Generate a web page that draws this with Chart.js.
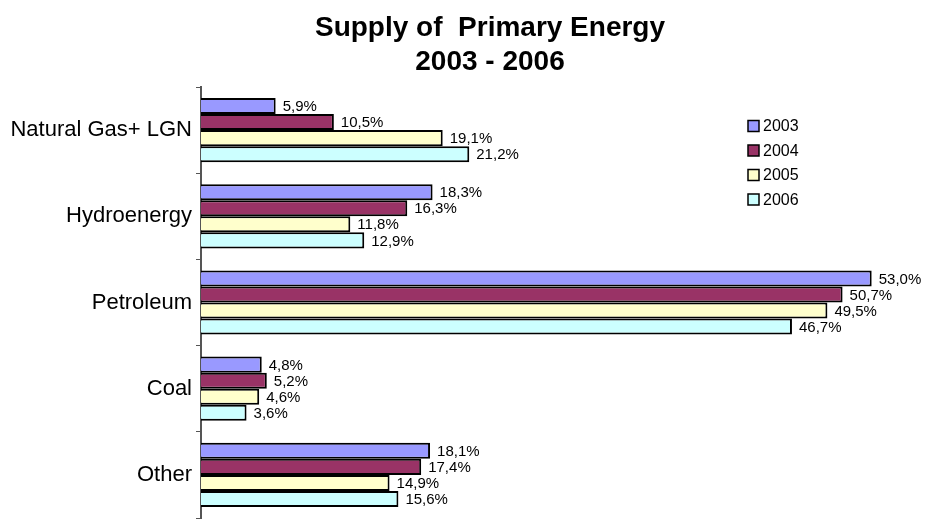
<!DOCTYPE html>
<html>
<head>
<meta charset="utf-8">
<script src="https://cdn.jsdelivr.net/npm/chart.js@4"></script>
<style>
html,body{margin:0;padding:0;background:#fff;}
#c{display:block;}
</style>
</head>
<body>
<canvas id="c" width="926" height="519"></canvas>
<script>
const categories = ['Natural Gas+ LGN', 'Hydroenergy', 'Petroleum', 'Coal', 'Other'];
const years = ['2003', '2004', '2005', '2006'];
const values2003 = [5.9, 18.3, 53.0, 4.8, 18.1];
const values2004 = [10.5, 16.3, 50.7, 5.2, 17.4];
const values2005 = [19.1, 11.8, 49.5, 4.6, 14.9];
const values2006 = [21.2, 12.9, 46.7, 3.6, 15.6];
const colors = ['#9999FF', '#993366', '#FFFFCC', '#CCFFFF'];
const titleLines = ['Supply of  Primary Energy', '2003 - 2006'];

const FONT = "'Liberation Sans', Arial, Helvetica, sans-serif";
const seriesValues = [values2003, values2004, values2005, values2006];

const titlePlugin = {
  id: 'customTitle',
  afterDraw(chart) {
    const ctx = chart.ctx;
    ctx.save();
    ctx.font = 'bold 28px ' + FONT;
    ctx.fillStyle = '#000';
    ctx.textAlign = 'center';
    ctx.textBaseline = 'middle';
    titleLines.forEach((t, i) => ctx.fillText(t, 490, 28 + i * 34));
    ctx.restore();
  }
};

const labelPlugin = {
  id: 'barLabels',
  afterDatasetsDraw(chart) {
    const ctx = chart.ctx;
    ctx.save();
    ctx.font = '15px ' + FONT;
    ctx.fillStyle = '#000';
    ctx.textAlign = 'left';
    ctx.textBaseline = 'middle';
    chart.data.datasets.forEach((ds, i) => {
      const meta = chart.getDatasetMeta(i);
      meta.data.forEach((el, j) => {
        const v = ds.data[j];
        const txt = v.toFixed(1).replace('.', ',') + '%';
        ctx.fillText(txt, el.x + 7, el.y + 1);
      });
    });
    ctx.restore();
  }
};

const legendPlugin = {
  id: 'customLegend',
  afterDraw(chart) {
    const ctx = chart.ctx;
    ctx.save();
    ctx.font = '16px ' + FONT;
    ctx.textBaseline = 'middle';
    ctx.textAlign = 'left';
    chart.data.datasets.forEach((ds, i) => {
      const cy = 126 + i * 24.5;
      ctx.fillStyle = ds.backgroundColor;
      ctx.fillRect(748, cy - 5.5, 11, 11);
      ctx.strokeStyle = '#000';
      ctx.lineWidth = 1.5;
      ctx.strokeRect(748, cy - 5.5, 11, 11);
      ctx.fillStyle = '#000';
      ctx.fillText(ds.label, 763, cy + 1);
    });
    ctx.restore();
  }
};

new Chart(document.getElementById('c'), {
  type: 'bar',
  data: {
    labels: categories,
    datasets: years.map((y, i) => ({
      label: y,
      data: seriesValues[i],
      backgroundColor: colors[i],
      borderColor: '#000',
      borderWidth: 2,
      barPercentage: 1,
      categoryPercentage: 0.745
    }))
  },
  options: {
    indexAxis: 'y',
    responsive: false,
    animation: false,
    layout: { padding: { left: 0, right: 29, top: 87, bottom: 1 } },
    plugins: {
      legend: { display: false },
      tooltip: { enabled: false },
      title: { display: false }
    },
    scales: {
      x: { display: false, min: 0, max: 55 },
      y: {
        afterFit(scale) { scale.width = 201; scale.paddingTop = 0; scale.paddingBottom = 0; },
        grid: { display: true, drawOnChartArea: false, offset: true, tickLength: 5, color: '#555', lineWidth: 1 },
        border: { display: true, color: '#555', width: 2 },
        ticks: { color: '#000', padding: 4, font: { family: FONT, size: 22 } }
      }
    }
  },
  plugins: [labelPlugin, legendPlugin, titlePlugin]
});
</script>
</body>
</html>
